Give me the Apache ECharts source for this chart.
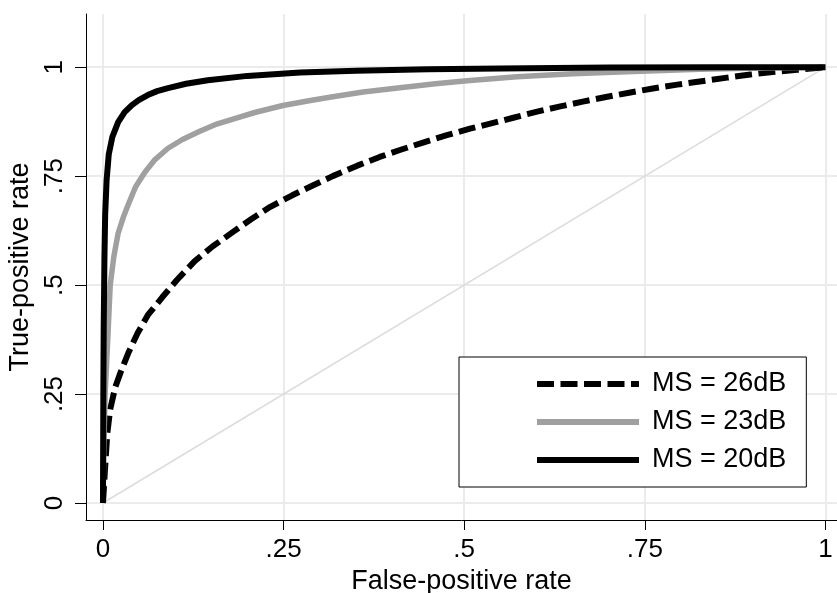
<!DOCTYPE html>
<html>
<head>
<meta charset="utf-8">
<script src="https://cdn.jsdelivr.net/npm/echarts@6/dist/echarts.min.js"></script>
<style>
  html, body { margin: 0; padding: 0; background: #fff; }
  #chart { width: 837px; height: 593px; }
</style>
</head>
<body>
<div id="chart"></div>
<script>
var tickValues = [0, 0.25, 0.5, 0.75, 1];
var tickLabels = ['0', '.25', '.5', '.75', '1'];

var seriesNames = ['MS = 26dB', 'MS = 23dB', 'MS = 20dB'];

// MS = 26dB (dashed)
var fpr26 = [0, 0.003, 0.006, 0.010, 0.017, 0.024, 0.035, 0.048, 0.062, 0.082, 0.102, 0.127, 0.152, 0.180, 0.205, 0.231, 0.262, 0.291, 0.318, 0.352, 0.383, 0.411, 0.443, 0.476, 0.508, 0.540, 0.568, 0.601, 0.633, 0.664, 0.698, 0.730, 0.761, 0.795, 0.826, 0.864, 0.896, 0.927, 0.961, 1];
var tpr26 = [0, 0.083, 0.160, 0.215, 0.266, 0.298, 0.344, 0.390, 0.431, 0.472, 0.511, 0.555, 0.589, 0.622, 0.651, 0.679, 0.706, 0.729, 0.750, 0.774, 0.794, 0.810, 0.827, 0.844, 0.859, 0.872, 0.884, 0.898, 0.910, 0.921, 0.932, 0.942, 0.951, 0.960, 0.967, 0.976, 0.983, 0.989, 0.994, 1];

// MS = 23dB (gray)
var fpr23 = [0, 0.001, 0.003, 0.005, 0.007, 0.010, 0.015, 0.021, 0.028, 0.035, 0.045, 0.058, 0.072, 0.090, 0.110, 0.134, 0.155, 0.180, 0.210, 0.249, 0.285, 0.318, 0.360, 0.411, 0.460, 0.504, 0.573, 0.650, 0.734, 0.826, 0.910, 1];
var tpr23 = [0, 0.120, 0.250, 0.320, 0.390, 0.500, 0.565, 0.619, 0.655, 0.685, 0.725, 0.759, 0.788, 0.814, 0.834, 0.853, 0.868, 0.881, 0.896, 0.912, 0.923, 0.932, 0.943, 0.953, 0.962, 0.969, 0.978, 0.985, 0.990, 0.995, 0.998, 1];

// MS = 20dB (black)
var fpr20 = [0, 0.0005, 0.001, 0.002, 0.003, 0.005, 0.008, 0.013, 0.021, 0.030, 0.040, 0.050, 0.062, 0.075, 0.090, 0.115, 0.145, 0.200, 0.273, 0.350, 0.450, 0.550, 0.700, 0.850, 1];
var tpr20 = [0, 0.250, 0.400, 0.560, 0.660, 0.740, 0.800, 0.840, 0.874, 0.897, 0.913, 0.925, 0.936, 0.945, 0.952, 0.962, 0.970, 0.980, 0.988, 0.992, 0.995, 0.997, 0.999, 1.000, 1];

// reference diagonal
var diagX = [0, 1];
var diagY = [0, 1];

var toPairs = function (xs, ys) {
    var res = [];
    for (var i = 0; i < xs.length; i++) {
        res.push([xs[i], ys[i]]);
    }
    return res;
};

var fmtTick = function (val) {
    var i = tickValues.indexOf(Math.round(val * 100) / 100);
    return i > -1 ? tickLabels[i] : '';
};

var font = 'Liberation Sans, Arial, Helvetica, sans-serif';
var gridColor = '#ebebeb';

var myChart = echarts.init(document.getElementById('chart'), null, {renderer: 'canvas'});

option = {
    animation: false,
    backgroundColor: '#fff',
    textStyle: { fontFamily: font, color: '#000' },
    grid: {
        left: 86,
        top: 14,
        width: 751,
        height: 506,
        outerBoundsMode: 'none',
        containLabel: false
    },
    xAxis: {
        type: 'value',
        min: -0.0235,
        max: 1.016,
        name: 'False-positive rate',
        nameLocation: 'middle',
        nameGap: 43,
        nameTextStyle: { fontFamily: font, fontSize: 27, color: '#000' },
        axisLine: { show: true, onZero: false, lineStyle: { color: '#000', width: 1 } },
        axisTick: { show: true, length: 10, customValues: tickValues, lineStyle: { color: '#000', width: 1 } },
        axisLabel: { customValues: tickValues, formatter: fmtTick, fontFamily: font, fontSize: 26, color: '#000', margin: 17 },
        splitLine: { show: true, lineStyle: { color: gridColor, width: 2 } }
    },
    yAxis: {
        type: 'value',
        min: -0.039,
        max: 1.122,
        name: 'True-positive rate',
        nameLocation: 'middle',
        nameGap: 50,
        nameTextStyle: { fontFamily: font, fontSize: 27, color: '#000' },
        axisLine: { show: true, onZero: false, lineStyle: { color: '#000', width: 1 } },
        axisTick: { show: true, length: 11, customValues: tickValues, lineStyle: { color: '#000', width: 1 } },
        axisLabel: { customValues: tickValues, formatter: fmtTick, rotate: 90, fontFamily: font, fontSize: 26, color: '#000', margin: 18 },
        splitLine: { show: true, lineStyle: { color: gridColor, width: 2 } }
    },
    legend: {
        data: seriesNames,
        orient: 'vertical',
        left: 459,
        top: 357,
        padding: [12, 20, 12, 75],
        itemGap: 8,
        itemWidth: 102,
        itemHeight: 14,
        backgroundColor: '#fff',
        borderColor: '#000',
        borderWidth: 1,
        borderRadius: 0,
        itemStyle: { opacity: 0 },
        lineStyle: { width: 6 },
        textStyle: { fontFamily: font, fontSize: 27, color: '#000', lineHeight: 30, padding: [0, 0, 0, 8] }
    },
    series: [
        {
            name: 'diag',
            type: 'line',
            data: toPairs(diagX, diagY),
            symbol: 'none',
            silent: true,
            lineStyle: { color: '#dcdcdc', width: 1.5 },
            z: 1
        },
        {
            name: seriesNames[0],
            type: 'line',
            data: toPairs(fpr26, tpr26),
            symbol: 'none',
            lineStyle: { color: '#000', width: 6, type: [17, 6.5], cap: 'butt', join: 'round' },
            itemStyle: { color: '#000' },
            z: 2
        },
        {
            name: seriesNames[1],
            type: 'line',
            data: toPairs(fpr23, tpr23),
            symbol: 'none',
            lineStyle: { color: '#a0a0a0', width: 5.5, join: 'round' },
            itemStyle: { color: '#a0a0a0' },
            z: 3
        },
        {
            name: seriesNames[2],
            type: 'line',
            data: toPairs(fpr20, tpr20),
            symbol: 'none',
            lineStyle: { color: '#000', width: 6, join: 'round' },
            itemStyle: { color: '#000' },
            z: 4
        }
    ]
};

myChart.setOption(option);

window.onresize = function () {
    myChart.resize();
};
</script>
</body>
</html>
